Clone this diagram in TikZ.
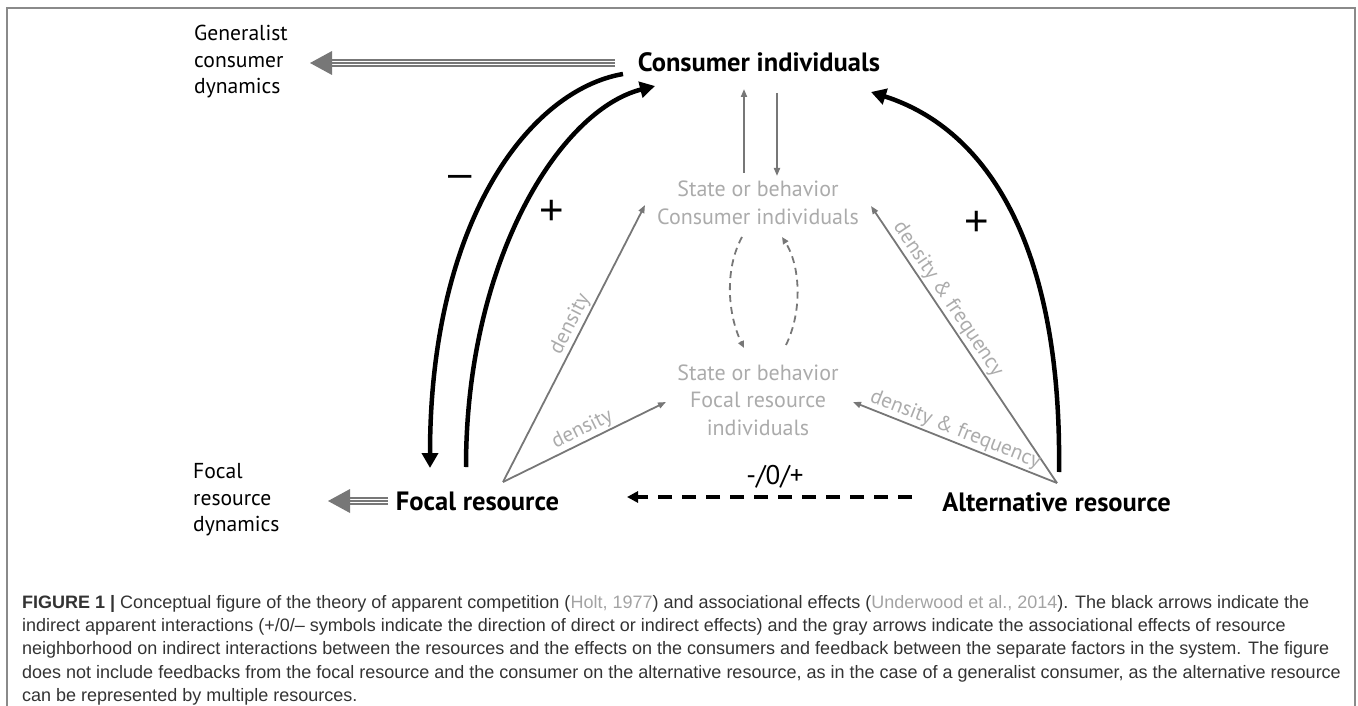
\documentclass[tikz,border=0pt]{standalone}
\usepackage{fontspec}
\setmainfont{PT Sans}
\newfontfamily\capfont{Liberation Sans}
\usetikzlibrary{arrows.meta,calc}
\definecolor{arrgray}{HTML}{777777}
\definecolor{txtgray}{HTML}{ABABAB}
\definecolor{framegray}{HTML}{8A8A8A}
\definecolor{refgray}{HTML}{A3A3A3}
\definecolor{captxt}{HTML}{333333}
\tikzset{
  bigbold/.style={font=\fontsize{26.5}{30}\selectfont\bfseries, inner sep=0pt},
  gtext/.style={text=txtgray, font=\fontsize{22}{27.5}\selectfont, align=center, inner sep=0pt},
  btext/.style={font=\fontsize{21.6}{26.5}\selectfont, align=left, inner sep=0pt},
  sign/.style={font=\capfont\fontsize{42}{42}\selectfont, inner sep=0pt},
  blackarr/.style={line width=4.5pt, -{Triangle[length=15pt,width=16pt]}},
  grayarr/.style={draw=arrgray, line width=1.8pt, -{Triangle[length=8pt,width=6pt]}},
  graydash/.style={draw=arrgray, line width=1.8pt, dash pattern=on 7pt off 5pt, -{Triangle[length=7pt,width=6pt]}},
  glabel/.style={text=txtgray, font=\fontsize{21}{21}\selectfont, inner sep=1.5pt},
  dblbody/.style={draw=arrgray, line width=8pt},
  dblstripe/.style={draw=white, line width=1.1pt, double=arrgray, double distance=1.8pt},
}
\begin{document}
\begin{tikzpicture}[x=1pt,y=-1pt]
\useasboundingbox (0,0) rectangle (1358,706);
\draw[framegray, line width=1.3pt] (7,706) -- (7,8) -- (1355,8) -- (1355,706);

% main nodes
\node[bigbold] (cons) at (759,62) {Consumer individuals};
\node[bigbold] (focal) at (477.5,501) {Focal resource};
\node[bigbold] (alt) at (1056.5,502) {Alternative resource};
\node[btext, anchor=west] (gen) at (194,62) {Generalist\\consumer\\dynamics};
\node[btext, anchor=west] (fdyn) at (193,500) {Focal\\resource\\dynamics};
\node[gtext] (sc) at (758,203) {State or behavior\\Consumer individuals};
\node[gtext] (sf) at (758,400) {State or behavior\\Focal resource\\individuals};

% double gray arrows
\coordinate (g1t) at (615,63); \coordinate (g1b) at (330,63); \coordinate (g1h) at (310,63);
\draw[dblbody] (g1t) -- (g1b);
\draw[dblstripe] (g1t) -- (g1b);
\fill[arrgray] (g1h) -- ($(g1b)+(2,-12)$) -- ($(g1b)+(2,12)$) -- cycle;
\coordinate (g2t) at (388,501); \coordinate (g2b) at (348,501); \coordinate (g2h) at (328,501);
\draw[dblbody] (g2t) -- (g2b);
\draw[dblstripe] (g2t) -- (g2b);
\fill[arrgray] (g2h) -- ($(g2b)+(2,-12)$) -- ($(g2b)+(2,12)$) -- cycle;

% black curved arrows
\coordinate (m1s) at (623,74); \coordinate (m1e) at (430,468);
\draw[blackarr] (m1s) .. controls (530,90) and (430,220) .. (m1e);
\coordinate (p1s) at (466,467); \coordinate (p1e) at (655,86);
\draw[blackarr] (p1s) .. controls (466,260) and (560,110) .. (p1e);
\coordinate (p2s) at (1059,472); \coordinate (p2e) at (871,92);
\draw[blackarr] (p2s) .. controls (1062,250) and (990,130) .. (p2e);
\node[sign] (minus) at (460,181) {–};
\node[sign] (plusl) at (552,212) {+};
\node[sign] (plusr) at (977,223) {+};

% black dashed arrow
\coordinate (ds) at (912,497); \coordinate (de) at (627,497);
\draw[line width=4pt, dash pattern=on 14pt off 10pt, -{Triangle[length=11pt,width=11pt]}] (ds) -- (de);
\node[font=\fontsize{27}{27}\selectfont, inner sep=0pt] (pm) at (775,477) {-/0/+};

% gray vertical arrows
\coordinate (u1) at (744,173); \coordinate (u2) at (744,89);
\draw[grayarr] (u1) -- (u2);
\coordinate (d1) at (777,93); \coordinate (d2) at (777,176);
\draw[grayarr] (d1) -- (d2);

% gray dashed curves
\coordinate (l1) at (742,237); \coordinate (l2) at (744,348);
\draw[graydash] (l1) .. controls (724,270) and (728,315) .. (l2);
\coordinate (r1) at (786,345); \coordinate (r2) at (782,237);
\draw[graydash] (r1) .. controls (803,310) and (800,265) .. (r2);

% gray density arrows
\coordinate (F) at (503,482);
\coordinate (A) at (1057,483);
\coordinate (t1) at (645,205); \coordinate (t2) at (666,402);
\coordinate (t3) at (871,206); \coordinate (t4) at (853,402);
\draw[grayarr] (F) -- node[glabel, sloped, above, pos=0.55] {density} (t1);
\draw[grayarr] (F) -- node[glabel, sloped, above, pos=0.52] {density} (t2);
\draw[grayarr] (A) -- node[glabel, sloped, above, pos=0.64] {density \& frequency} (t3);
\draw[grayarr] (A) -- node[glabel, sloped, above, pos=0.52] {density \& frequency} (t4);

% caption
\node[anchor=north west, inner sep=0pt, align=left, text=captxt,
      font=\capfont\fontsize{18}{23.3}\selectfont] (cap) at (22,595)
{\textbf{FIGURE 1 |} Conceptual figure of the theory of apparent competition ({\color{refgray}Holt, 1977}) and associational effects ({\color{refgray}Underwood et al., 2014}). The black arrows indicate the\\
indirect apparent interactions (+/0/– symbols indicate the direction of direct or indirect effects) and the gray arrows indicate the associational effects of resource\\
neighborhood on indirect interactions between the resources and the effects on the consumers and feedback between the separate factors in the system. The figure\\
does not include feedbacks from the focal resource and the consumer on the alternative resource, as in the case of a generalist consumer, as the alternative resource\\
can be represented by multiple resources.};
\end{tikzpicture}
\end{document}
